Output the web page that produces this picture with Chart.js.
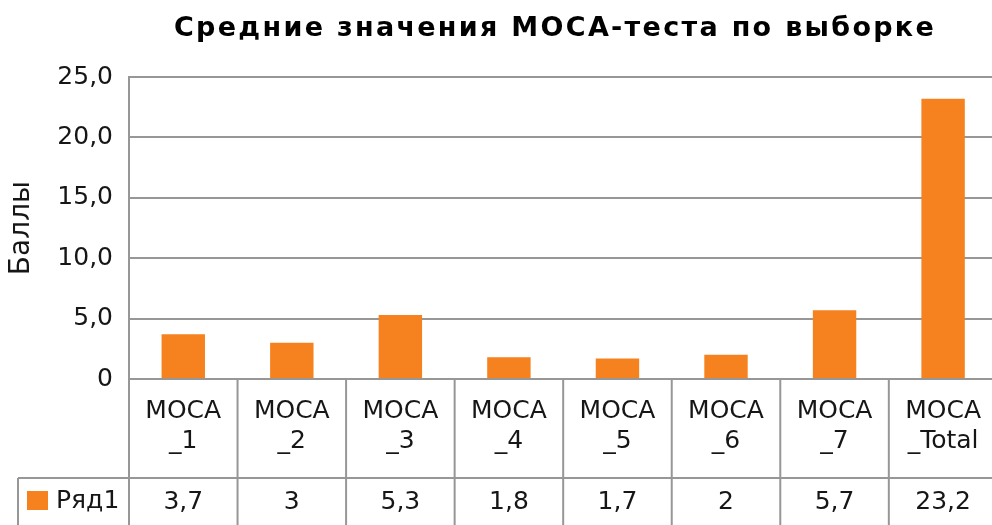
<!DOCTYPE html>
<html>
<head>
<meta charset="utf-8">
<script src="https://cdn.jsdelivr.net/npm/chart.js@4"></script>
<style>
  html, body { margin: 0; padding: 0; background: #fff; overflow: hidden; }
  #wrap { width: 998px; height: 525px; }
</style>
</head>
<body>
<div id="wrap"><canvas id="moca" width="998" height="525"></canvas></div>
<script>
const chartTitle = "Средние значения MOCA-теста по выборке";
const categories = [["MOCA", "_1"], ["MOCA", "_2"], ["MOCA", "_3"], ["MOCA", "_4"],
                    ["MOCA", "_5"], ["MOCA", "_6"], ["MOCA", "_7"], ["MOCA", "_Total"]];
const seriesName = "Ряд1";
const scores = [3.7, 3, 5.3, 1.8, 1.7, 2, 5.7, 23.2];
const yTicks = [0, 5, 10, 15, 20, 25];

const ORANGE = "#f5821f";
const GRID = "#979797";
const INK = "#161616";
const FAMILY = "DejaVu Sans, Verdana, sans-serif";
const tickFont = { family: FAMILY, size: 25 };

const fmt = v => String(v).replace(".", ",");
const fmtTick = v => v === 0 ? "0" : v.toFixed(1).replace(".", ",");

// title (wide, letter-spaced like the original) + data table under the plot
const chartText = {
  id: "chartText",
  afterDraw(c) {
    const { ctx, chartArea } = c;
    const x = c.scales.x;
    const step = x.getPixelForValue(1) - x.getPixelForValue(0);
    const rowY = 478, bottom = c.height;
    ctx.save();

    ctx.fillStyle = "#000";
    ctx.font = "bold 27px " + FAMILY;
    ctx.letterSpacing = "2.3px";
    ctx.textAlign = "left";
    ctx.textBaseline = "alphabetic";
    ctx.fillText(chartTitle, 174, 36);
    ctx.letterSpacing = "0px";

    ctx.strokeStyle = GRID;
    ctx.lineWidth = 2;
    ctx.beginPath();
    for (let i = 0; i <= scores.length; i++) {
      const bx = x.getPixelForValue(i) - step / 2;
      ctx.moveTo(bx, chartArea.bottom);
      ctx.lineTo(bx, bottom);
    }
    ctx.moveTo(18, rowY);
    ctx.lineTo(chartArea.right, rowY);
    ctx.moveTo(18, rowY);
    ctx.lineTo(18, bottom);
    ctx.stroke();

    ctx.fillStyle = ORANGE;
    ctx.fillRect(27, 491, 21, 19);

    ctx.fillStyle = INK;
    ctx.font = "25px " + FAMILY;
    ctx.textBaseline = "middle";
    ctx.textAlign = "left";
    ctx.fillText(seriesName, 56, 501);
    ctx.textAlign = "center";
    scores.forEach((v, i) => ctx.fillText(fmt(v), x.getPixelForValue(i), 502));
    ctx.restore();
  }
};

new Chart(document.getElementById("moca"), {
  type: "bar",
  data: {
    labels: categories,
    datasets: [{
      label: seriesName,
      data: scores,
      backgroundColor: ORANGE,
      barPercentage: 0.4,
      categoryPercentage: 1
    }]
  },
  options: {
    responsive: false,
    animation: false,
    devicePixelRatio: 1,
    layout: { padding: { top: 77 } },
    plugins: {
      legend: { display: false },
      tooltip: { enabled: false },
      title: { display: false }
    },
    scales: {
      x: {
        grid: { display: false, drawTicks: false },
        border: { display: false },
        ticks: { color: INK, font: { ...tickFont, lineHeight: 1.22 }, padding: 17, maxRotation: 0, autoSkip: false },
        afterFit: s => { s.height = 146; }
      },
      y: {
        min: 0, max: 25,
        afterBuildTicks: s => { s.ticks = yTicks.map(v => ({ value: v })); },
        grid: { color: GRID, lineWidth: 2, drawTicks: false },
        border: { display: true, color: GRID, width: 2 },
        ticks: { color: INK, font: tickFont, padding: 16, callback: v => fmtTick(v) },
        title: { display: true, text: "Баллы", color: INK, font: { family: FAMILY, size: 28 }, padding: { top: 5, bottom: 0 } },
        afterFit: s => { s.width = 129; }
      }
    }
  },
  plugins: [chartText]
});
</script>
</body>
</html>
